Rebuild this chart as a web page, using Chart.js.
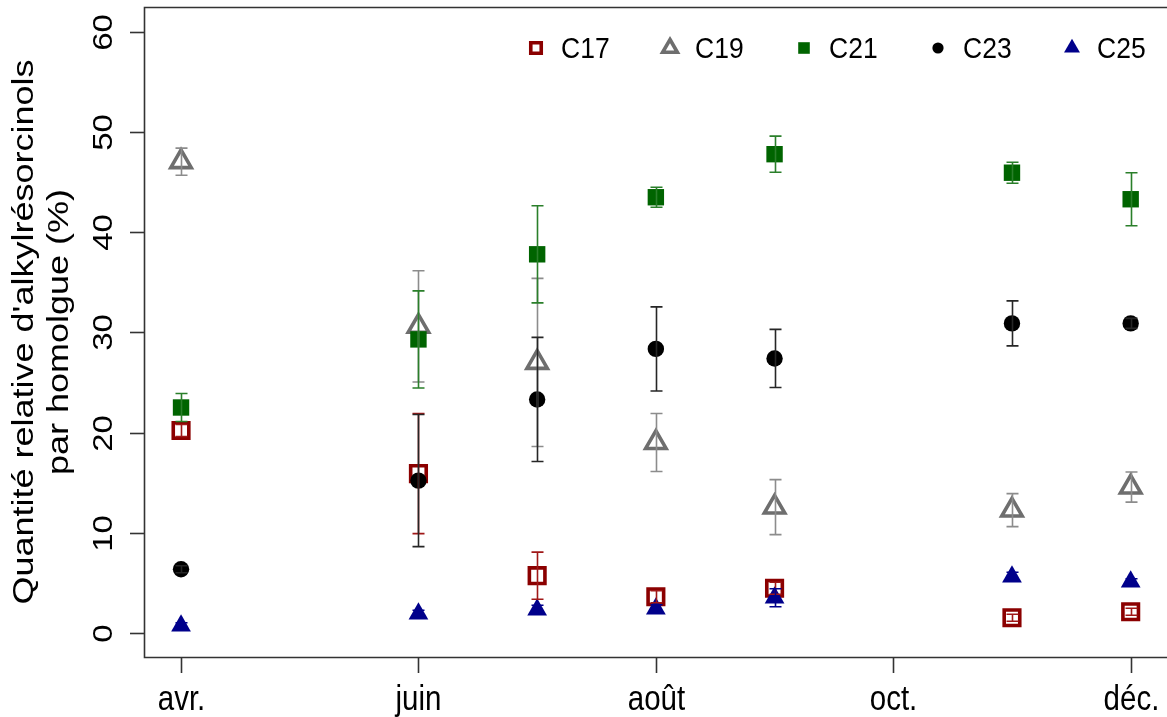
<!DOCTYPE html>
<html lang="fr">
<head>
<meta charset="UTF-8">
<title>Alkylrésorcinols par homologue</title>
<script src="https://cdn.jsdelivr.net/npm/chart.js"></script>
<style>
  body { margin: 0; background: #fff; }
  canvas { display: block; }
</style>
</head>
<body>
<canvas id="chart" width="1167" height="717"></canvas>
<script>
// sampling dates, as month numbers (4 = avril ... 12 = décembre)
const months = [4, 6, 7, 8, 9, 11, 12];

// relative amount per homologue (%) and error (half bar)
const c17    = [20.2, 15.9, 5.7, 3.6, 4.45, 1.5, 2.1];
const c17Err = [0.6, 6.0, 2.35, 0.6, 0.6, 0.35, 0.35];
const c19    = [47.05, 30.6, 27.0, 19.0, 12.55, 12.25, 14.55];
const c19Err = [1.35, 5.55, 8.4, 2.9, 2.75, 1.65, 1.5];
const c21    = [22.5, 29.3, 37.8, 43.5, 47.8, 45.95, 43.3];
const c21Err = [1.4, 4.85, 4.85, 1.0, 1.8, 1.05, 2.65];
const c23    = [6.35, 15.2, 23.3, 28.35, 27.4, 30.9, 30.9];
const c23Err = [0.35, 6.6, 6.2, 4.2, 2.9, 2.25, 0.5];
const c25    = [0.7, 1.9, 2.3, 2.4, 3.5, 5.6, 5.1];
const c25Err = [0.3, 0.35, 0.45, 0.4, 0.9, 0.45, 0.3];

const seriesNames = ['C17', 'C19', 'C21', 'C23', 'C25'];
const seriesValues = [c17, c19, c21, c23, c25];
const seriesErrors = [c17Err, c19Err, c21Err, c23Err, c25Err];

const xTicks = [4, 6, 8, 10, 12];
const xTickLabels = ['avr.', 'juin', 'août', 'oct.', 'déc.'];
const yTicks = [0, 10, 20, 30, 40, 50, 60];
const yTitle = ["Quantité relative d'alkylrésorcinols", 'par homolgue (%)'];

// look of each series
const looks = [
    { shape: 'rect', color: '#8b0000', fill: '#ffffff', r: 11, bw: 3.6, err: '#a01818', lr: 7.4 },
    { shape: 'triangle', color: '#6e6e6e', fill: '#ffffff', r: 11.8, bw: 3.6, err: '#8c8c8c', lr: 8.5 },
    { shape: 'rect', color: '#006400', fill: '#006400', r: 11.6, bw: 0, err: '#2a7f2a', lr: 8.2 },
    { shape: 'circle', color: '#000000', fill: '#000000', r: 8.2, bw: 0, err: '#262626', lr: 5.6 },
    { shape: 'triangle', color: '#00008b', fill: '#00008b', r: 11.4, bw: 0, err: '#00008b', lr: 9.2 }
];

const FONT = '"Liberation Sans", Arial, sans-serif';

// text stretched along one direction, to match the tall letters of the reference
function stretchedText(ctx, text, x, y, size, rotate, stretch, align) {
    ctx.save();
    ctx.translate(x, y);
    if (rotate) {
        ctx.rotate(-Math.PI / 2);
        ctx.scale(stretch, 1);
    } else {
        ctx.scale(1, stretch);
    }
    ctx.font = size + 'px ' + FONT;
    ctx.fillStyle = '#000';
    ctx.textAlign = align || 'center';
    ctx.textBaseline = 'alphabetic';
    ctx.fillText(text, 0, 0);
    ctx.restore();
}

function marker(ctx, look, x, y, r) {
    ctx.save();
    ctx.beginPath();
    if (look.shape === 'rect') {
        const s = r * Math.SQRT1_2;
        ctx.rect(x - s, y - s, 2 * s, 2 * s);
    } else if (look.shape === 'triangle') {
        ctx.moveTo(x, y - r);
        ctx.lineTo(x + r * 0.866, y + r / 2);
        ctx.lineTo(x - r * 0.866, y + r / 2);
        ctx.closePath();
    } else {
        ctx.arc(x, y, r, 0, Math.PI * 2);
    }
    ctx.fillStyle = look.fill;
    ctx.fill();
    if (look.bw > 0) {
        ctx.lineWidth = look.bw;
        ctx.strokeStyle = look.color;
        ctx.stroke();
    }
    ctx.restore();
}

const rPlot = {
    id: 'rPlot',
    afterDatasetsDraw(chart) {
        // error bars, on top of the points
        const ctx = chart.ctx;
        const xs = chart.scales.x, ys = chart.scales.y;
        ctx.save();
        ctx.lineWidth = 1.6;
        seriesValues.forEach((vals, k) => {
            ctx.strokeStyle = looks[k].err;
            vals.forEach((v, i) => {
                const e = seriesErrors[k][i];
                const px = Math.round(xs.getPixelForValue(months[i])) + 0.5;
                const top = ys.getPixelForValue(v + e);
                const bot = ys.getPixelForValue(v - e);
                ctx.beginPath();
                ctx.moveTo(px, top); ctx.lineTo(px, bot);
                ctx.moveTo(px - 6, top); ctx.lineTo(px + 6, top);
                ctx.moveTo(px - 6, bot); ctx.lineTo(px + 6, bot);
                ctx.stroke();
            });
        });
        ctx.restore();
    },
    afterDraw(chart) {
        const ctx = chart.ctx;
        const a = chart.chartArea;
        const xs = chart.scales.x, ys = chart.scales.y;
        ctx.save();
        ctx.strokeStyle = '#333';
        ctx.lineWidth = 1.6;
        // box (right side falls outside the picture)
        ctx.beginPath();
        ctx.moveTo(a.right + 5, a.top + 0.5);
        ctx.lineTo(a.left + 0.5, a.top + 0.5);
        ctx.lineTo(a.left + 0.5, a.bottom + 0.5);
        ctx.lineTo(a.right + 5, a.bottom + 0.5);
        ctx.stroke();

        // x axis
        xTicks.forEach((t, i) => {
            const px = Math.round(xs.getPixelForValue(t)) + 0.5;
            ctx.beginPath();
            ctx.moveTo(px, a.bottom + 1);
            ctx.lineTo(px, a.bottom + 16);
            ctx.stroke();
            stretchedText(ctx, xTickLabels[i], px, 710, 29.5, false, 1.2);
        });

        // y axis
        yTicks.forEach(t => {
            const py = Math.round(ys.getPixelForValue(t)) + 0.5;
            ctx.beginPath();
            ctx.moveTo(a.left, py);
            ctx.lineTo(a.left - 14, py);
            ctx.stroke();
            stretchedText(ctx, String(t), 112, py, 27.5, true, 1.2);
        });

        const midY = (a.top + a.bottom) / 2;
        stretchedText(ctx, yTitle[0], 33, midY, 30, true, 1.2);
        stretchedText(ctx, yTitle[1], 68, midY, 30, true, 1.2);

        // legend, inside the top of the plot
        seriesNames.forEach((name, k) => {
            const mx = 536 + k * 134;
            marker(ctx, looks[k], mx, 48, looks[k].lr);
            stretchedText(ctx, name, mx + 25, 58, 26.5, false, 1.12, 'left');
        });
        ctx.restore();
    }
};

const datasets = seriesNames.map((name, k) => ({
    label: name,
    data: months.map((m, i) => ({ x: m, y: seriesValues[k][i] })),
    pointStyle: looks[k].shape,
    pointRadius: looks[k].r,
    pointHoverRadius: looks[k].r,
    pointBackgroundColor: looks[k].fill,
    pointBorderColor: looks[k].color,
    pointBorderWidth: looks[k].bw,
    showLine: false,
    order: seriesNames.length - k
}));

new Chart(document.getElementById('chart'), {
    type: 'scatter',
    data: { datasets: datasets },
    options: {
        responsive: false,
        animation: false,
        layout: { autoPadding: false, padding: { left: 144, top: 7, right: 0, bottom: 60 } },
        plugins: {
            legend: { display: false },
            tooltip: { enabled: false }
        },
        scales: {
            x: { type: 'linear', min: 3.688, max: 12.306, display: false },
            y: { type: 'linear', min: -2.42, max: 62.5, display: false }
        }
    },
    plugins: [rPlot]
});
</script>
</body>
</html>
